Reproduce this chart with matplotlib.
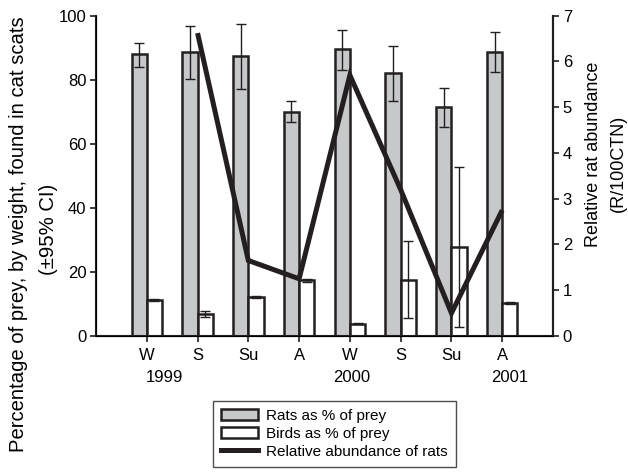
import numpy as np
import matplotlib
matplotlib.use("Agg")
import matplotlib.pyplot as plt
from matplotlib.patches import Patch
from matplotlib.lines import Line2D

plt.rcParams['font.family'] = ['Liberation Sans', 'DejaVu Sans']

# seasons and years
seasons = ["W", "S", "Su", "A", "W", "S", "Su", "A"]
years = ["1999", "2000", "2001"]
year_pos = [0.35, 4.04, 7.15]

# rats as % of prey (with 95% CI bounds)
rats = [88.0, 88.6, 87.4, 70.0, 89.5, 82.0, 71.4, 88.6]
rats_lo = [84.1, 80.3, 77.1, 66.7, 83.1, 73.3, 65.3, 82.3]
rats_hi = [91.4, 96.8, 97.5, 73.5, 95.5, 90.5, 77.4, 94.8]

# birds as % of prey (with 95% CI bounds)
birds = [11.2, 7.0, 12.1, 17.4, 3.9, 17.6, 27.9, 10.4]
birds_lo = [10.9, 6.0, 11.8, 17.0, 3.6, 5.5, 2.9, 10.1]
birds_hi = [11.5, 7.9, 12.4, 17.8, 4.2, 29.6, 52.8, 10.7]

# relative rat abundance (R/100CTN), no value for first winter
abundance = [np.nan, 6.62, 1.65, 1.25, 5.7, 3.2, 0.5, 2.75]

dark = "#231f20"
grey = "#c7c8ca"

x = np.arange(len(seasons))
w = 0.3

fig = plt.figure(figsize=(6.28, 4.72), dpi=100)
ax = fig.add_axes([96/628, 1-336/472, 457/628, 320.3/472])

rats = np.array(rats); birds = np.array(birds)
rerr = [rats - np.array(rats_lo), np.array(rats_hi) - rats]
berr = [birds - np.array(birds_lo), np.array(birds_hi) - birds]

ax.bar(x - w/2, rats, w, color=grey, edgecolor=dark, linewidth=1.8, zorder=2)
ax.bar(x + w/2, birds, w, color="white", edgecolor=dark, linewidth=1.8, zorder=2)
ax.errorbar(x - w/2, rats, yerr=rerr, fmt="none", ecolor=dark, elinewidth=1,
            capsize=3.6, capthick=1, zorder=3)
ax.errorbar(x + w/2, birds, yerr=berr, fmt="none", ecolor=dark, elinewidth=1,
            capsize=3.6, capthick=1, zorder=3)

ax.set_xlim(-1, 8)
ax.set_ylim(0, 100)
ax.set_yticks([0, 20, 40, 60, 80, 100])
ax.set_xticks(x)
ax.set_xticklabels(seasons)
ax.spines["top"].set_visible(False)
for s in ["left", "right", "bottom"]:
    ax.spines[s].set_linewidth(1.5)
    ax.spines[s].set_color(dark)
ax.tick_params(axis="both", direction="out", length=4, width=1.2, colors=dark,
               labelsize=12, labelcolor="black", pad=3)
ax.tick_params(axis="x", pad=5)

for yr, xp in zip(years, year_pos):
    ax.text(xp, -0.131, yr, transform=ax.get_xaxis_transform(), ha="center",
            va="center", fontsize=12)

ax2 = ax.twinx()
ax2.plot(x, abundance, color=dark, linewidth=3.6, solid_joinstyle="miter",
         solid_capstyle="butt", zorder=4)
ax2.set_ylim(0, 7)
ax2.set_yticks(range(0, 8))
ax2.spines["top"].set_visible(False)
ax2.spines["right"].set_linewidth(1.5)
ax2.spines["right"].set_color(dark)
ax2.tick_params(axis="y", direction="out", length=4, width=1.2, colors=dark,
                labelsize=12, labelcolor="black", pad=3)

# axis titles
fig.text(19/628, 1-234/472, "Percentage of prey, by weight, found in cat scats",
         rotation=90, ha="center", va="center", fontsize=14.6)
fig.text(48/628, 1-229/472, "(\u00b195% CI)", rotation=90, ha="center",
         va="center", fontsize=14.6)
fig.text(594/628, 1-154/472, "Relative rat abundance", rotation=90,
         ha="center", va="center", fontsize=13)
fig.text(618/628, 1-163/472, "(R/100CTN)", rotation=90, ha="center",
         va="center", fontsize=13)

handles = [Patch(facecolor=grey, edgecolor=dark, linewidth=1.8),
           Patch(facecolor="white", edgecolor=dark, linewidth=1.8),
           Line2D([0], [0], color=dark, linewidth=3.6)]
labels = ["Rats as % of prey", "Birds as % of prey", "Relative abundance of rats"]
leg = fig.legend(handles, labels, loc="center",
                 bbox_to_anchor=(0.5326, 0.0805), fontsize=11, frameon=True,
                 fancybox=False, edgecolor=dark, handlelength=2.4,
                 handletextpad=0.55, labelspacing=0.25, borderpad=0.55)
leg.get_frame().set_linewidth(1)

fig.savefig("out.png", dpi=100)
